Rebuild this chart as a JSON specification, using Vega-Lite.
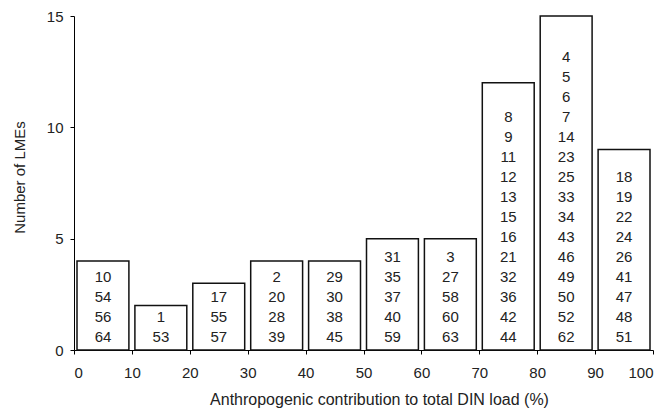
{
  "$schema": "https://vega.github.io/schema/vega-lite/v6.json",
  "width": 579,
  "height": 334,
  "autosize": "none",
  "padding": {"left": 74, "top": 16, "right": 15, "bottom": 59},
  "background": "white",
  "config": {
    "view": {"stroke": null},
    "font": "Liberation Sans",
    "axis": {
      "grid": false,
      "domainColor": "#000",
      "tickColor": "#000",
      "tickSize": 4,
      "labelFont": "Liberation Sans",
      "labelFontSize": 15,
      "labelColor": "#222",
      "titleFont": "Liberation Sans",
      "titleFontSize": 15,
      "titleFontWeight": "normal",
      "titleColor": "#222"
    }
  },
  "data": {
    "values": [
      {"start": 0, "end": 10, "count": 4, "ids": "10\n54\n56\n64"},
      {"start": 10, "end": 20, "count": 2, "ids": "1\n53"},
      {"start": 20, "end": 30, "count": 3, "ids": "17\n55\n57"},
      {"start": 30, "end": 40, "count": 4, "ids": "2\n20\n28\n39"},
      {"start": 40, "end": 50, "count": 4, "ids": "29\n30\n38\n45"},
      {"start": 50, "end": 60, "count": 5, "ids": "31\n35\n37\n40\n59"},
      {"start": 60, "end": 70, "count": 5, "ids": "3\n27\n58\n60\n63"},
      {"start": 70, "end": 80, "count": 12, "ids": "8\n9\n11\n12\n13\n15\n16\n21\n32\n36\n42\n44"},
      {"start": 80, "end": 90, "count": 15, "ids": "4\n5\n6\n7\n14\n23\n25\n33\n34\n43\n46\n49\n50\n52\n62"},
      {"start": 90, "end": 100, "count": 9, "ids": "18\n19\n22\n24\n26\n41\n47\n48\n51"}
    ]
  },
  "layer": [
    {
      "mark": {"type": "bar", "fill": "white", "stroke": "#111", "strokeWidth": 1.5, "xOffset": 3, "x2Offset": -3},
      "encoding": {
        "x": {
          "field": "start", "type": "quantitative",
          "scale": {"domain": [0, 100], "nice": false},
          "axis": {"values": [0, 10, 20, 30, 40, 50, 60, 70, 80, 90, 100], "labelPadding": 11, "titlePadding": 11, "titleFontSize": 16, "titleX": 305, "titleAlign": "center"},
          "title": "Anthropogenic contribution to total DIN load (%)"
        },
        "x2": {"field": "end"},
        "y": {
          "field": "count", "type": "quantitative",
          "scale": {"domain": [0, 15], "nice": false},
          "axis": {"values": [0, 5, 10, 15], "labelPadding": 7, "titlePadding": 19, "titleY": 161, "titleAlign": "center"},
          "title": "Number of LMEs"
        },
        "y2": {"datum": 0}
      }
    },
    {
      "mark": {"type": "text", "lineBreak": "\n", "lineHeight": 20, "fontSize": 15, "baseline": "bottom", "dx": 29, "dy": {"expr": "-5 - (datum.count - 1) * 20"}, "color": "#222", "font": "Liberation Sans"},
      "encoding": {
        "x": {"field": "start", "type": "quantitative"},
        "y": {"datum": 0},
        "text": {"field": "ids"}
      }
    }
  ]
}
